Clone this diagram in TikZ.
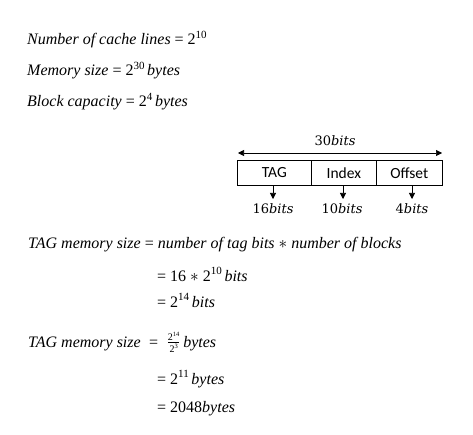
\documentclass[tikz,border=0pt]{standalone}
\usepackage{fontspec}
\setmainfont{Liberation Serif}
\newfontfamily\boxfont{Carlito}
\newfontfamily\bitsfont{DejaVu Serif}
\usetikzlibrary{arrows.meta}
\newcommand\mysup[1]{\raisebox{0.42em}{\fontsize{11}{11}\selectfont #1}}
\newcommand\eqfont{\fontsize{16}{18}\selectfont}
\newcommand\smallpow[2]{\mbox{\fontsize{10}{10}\selectfont #1\raisebox{0.4em}{\fontsize{6.5}{6.5}\selectfont #2}}}
\tikzset{
  eq/.style={anchor=base west, inner sep=0pt, font=\eqfont},
  cell/.style={draw, minimum height=25pt, inner sep=0pt, font=\boxfont\fontsize{15.5}{17}\selectfont, line width=0.6pt},
  bits/.style={anchor=base, inner sep=0pt, font=\bitsfont\fontsize{13}{14}\selectfont},
  arr/.style={-{Triangle[length=6pt,width=6pt]}, line width=0.6pt}
}
\begin{document}
\begin{tikzpicture}[x=1pt,y=-1pt]
\useasboundingbox (0,0) rectangle (473,435);
\fill[white] (0,0) rectangle (473,435);
% givens
\node[eq] (l1) at (27,45) {\textit{Number of cache lines} = 2\mysup{10}};
\node[eq] (l2) at (27,76) {\textit{Memory size} = 2\mysup{30}\,\textit{bytes}};
\node[eq] (l3) at (27,107) {\textit{Block capacity} = 2\mysup{4}\,\textit{bytes}};
% address box
\node[cell, minimum width=74pt, anchor=north west] (tag) at (237,160) {TAG};
\node[cell, minimum width=65pt, anchor=north west] (idx) at (311,160) {Index};
\node[cell, minimum width=66pt, anchor=north west] (off) at (376,160) {Offset};
\coordinate (aL) at (238,153);
\coordinate (aR) at (442,153);
\draw[{Triangle[length=6pt,width=6pt]}-{Triangle[length=6pt,width=6pt]}, line width=0.6pt] (aL) -- (aR);
\node[bits] (w) at (335,146) {30\textit{bits}};
\node[bits] (b1) at (273,214) {16\textit{bits}};
\node[bits] (b2) at (342,214) {10\textit{bits}};
\node[bits] (b3) at (412,214) {4\textit{bits}};
\coordinate (t1) at (273,199);
\coordinate (t2) at (343,199);
\coordinate (t3) at (412,199);
\draw[arr] (tag.south -| t1) -- (t1);
\draw[arr] (idx.south -| t2) -- (t2);
\draw[arr] (off.south -| t3) -- (t3);
% tag memory
\node[eq] (m1) at (28,249) {\textit{TAG memory size} = \textit{number of tag bits} $*$ \textit{number of blocks}};
\node[eq] (m2) at (157,281) {= 16 $*$ 2\mysup{10}\,\textit{bits}};
\node[eq] (m3) at (157,307) {= 2\mysup{14}\,\textit{bits}};
\node[eq] (m4) at (28,347) {\textit{TAG memory size} \;=\; $\frac{\smallpow{2}{14}}{\smallpow{2}{3}}$\,\textit{bytes}};
\node[eq] (m5) at (157,384) {= 2\mysup{11}\,\textit{bytes}};
\node[eq] (m6) at (157,412) {= 2048\textit{bytes}};
\end{tikzpicture}
\end{document}
